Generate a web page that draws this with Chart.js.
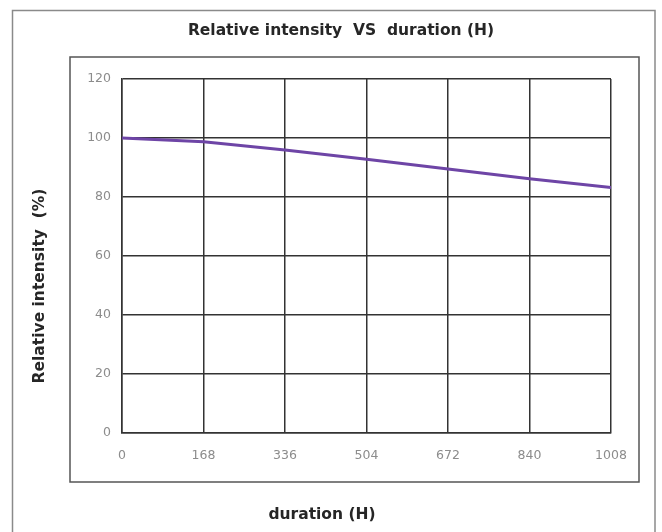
<!DOCTYPE html>
<html>
<head>
<meta charset="utf-8">
<script src="https://cdn.jsdelivr.net/npm/chart.js@4/dist/chart.umd.min.js"></script>
<style>
  html, body { margin: 0; padding: 0; background: #fff; }
  #wrap { width: 662px; height: 532px; }
</style>
</head>
<body>
<div id="wrap"><canvas id="intensityChart"></canvas></div>
<script>
// values
const durations = [0, 168, 336, 504, 672, 840, 1008];
const intensity = [100, 98.7, 95.9, 92.8, 89.5, 86.2, 83.2];
const yTicks = [0, 20, 40, 60, 80, 100, 120];

const chartTitle = "Relative intensity  VS  duration (H)";
const xTitle = "duration (H)";
const yTitle = "Relative intensity  (%)";

const FONT = "'DejaVu Sans', sans-serif";

// draws the two frames and the three titles like the excel chart had them
const framePlugin = {
  id: "frames",
  beforeDraw(chart) {
    const ctx = chart.ctx;
    const a = chart.chartArea;
    ctx.save();
    ctx.fillStyle = "#fff";
    ctx.fillRect(0, 0, chart.width, chart.height);
    ctx.strokeStyle = "#8a8a8a";
    ctx.lineWidth = 1.5;
    ctx.strokeRect(12.5, 10.5, chart.width - 7 - 12.5, chart.height + 20);
    ctx.strokeStyle = "#555";
    ctx.strokeRect(a.left - 52, a.top - 22, a.right - a.left + 80, a.bottom - a.top + 71);
    ctx.restore();
  },
  afterDraw(chart) {
    const ctx = chart.ctx;
    const a = chart.chartArea;
    ctx.save();
    ctx.fillStyle = "#262626";
    ctx.textAlign = "center";
    ctx.textBaseline = "middle";
    ctx.font = "bold 15.5px " + FONT;
    ctx.fillText(chartTitle, a.left + 219, a.top - 48);
    ctx.fillText(xTitle, a.left + 200, a.bottom + 82);
    ctx.translate(40, a.top + 207);
    ctx.rotate(-Math.PI / 2);
    ctx.fillText(yTitle, 0, 0);
    ctx.restore();
  },
};

const ctx = document.getElementById("intensityChart").getContext("2d");

const config = {
  type: "line",
  data: {
    datasets: [
      {
        label: "Relative intensity",
        data: durations.map((d, i) => ({ x: d, y: intensity[i] })),
        borderColor: "#6e45a6",
        borderWidth: 3,
        pointRadius: 0,
        tension: 0,
      },
    ],
  },
  options: {
    responsive: true,
    maintainAspectRatio: false,
    animation: false,
    layout: {
      padding: { top: 79, right: 51, left: 0, bottom: 0 },
    },
    plugins: {
      legend: { display: false },
      title: { display: false },
      tooltip: { enabled: false },
    },
    scales: {
      x: {
        type: "linear",
        min: 0,
        max: 1008,
        afterBuildTicks: (scale) => {
          scale.ticks = durations.map((v) => ({ value: v }));
        },
        afterFit: (scale) => {
          scale.height = 99;
        },
        ticks: {
          padding: 15,
          color: "#8c8c8c",
          font: { family: FONT, size: 12.5 },
          callback: (v) => String(v),
        },
        grid: { color: "#333", lineWidth: 1.5, drawTicks: false },
        border: { color: "#333", width: 1.5 },
      },
      y: {
        min: 0,
        max: 120,
        afterBuildTicks: (scale) => {
          scale.ticks = yTicks.map((v) => ({ value: v }));
        },
        afterFit: (scale) => {
          scale.width = 122;
        },
        ticks: {
          padding: 11,
          color: "#8c8c8c",
          font: { family: FONT, size: 12.5 },
          callback: (v) => String(v),
        },
        grid: { color: "#333", lineWidth: 1.5, drawTicks: false },
        border: { color: "#333", width: 1.5 },
      },
    },
  },
  plugins: [framePlugin],
};

const intensityChart = new Chart(ctx, config);
</script>
</body>
</html>
